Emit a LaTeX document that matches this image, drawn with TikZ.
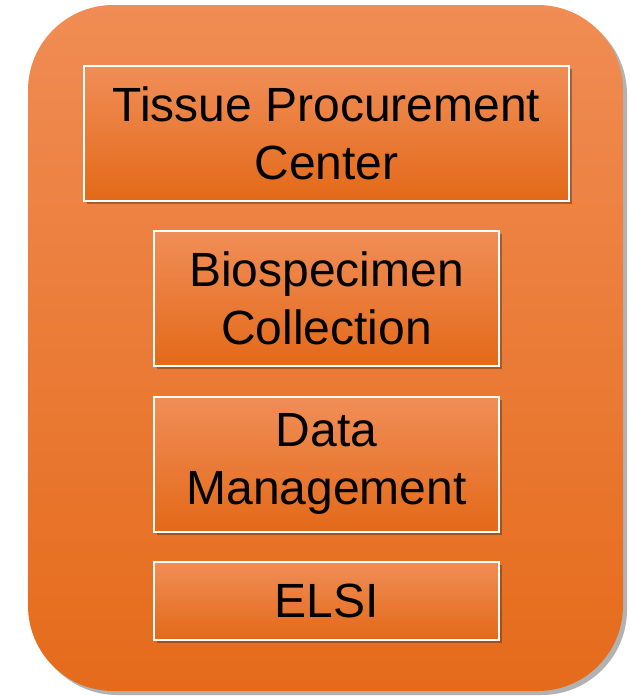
\documentclass[tikz,border=0pt]{standalone}
\usepackage{fontspec}
\setmainfont{Liberation Sans}
\usetikzlibrary{shadows}

\definecolor{panelTop}{RGB}{240,140,84}
\definecolor{panelBot}{RGB}{229,107,27}
\definecolor{boxTop}{RGB}{240,142,88}
\definecolor{boxMid}{RGB}{244,124,42}
\definecolor{boxBot}{RGB}{227,105,24}

\tikzset{every picture/.style={line width=0.75pt}}
\tikzset{
  unitbox/.style={draw=white, line width=1.5pt, top color=boxTop, middle color=boxMid, bottom color=boxBot,
    drop shadow={shadow xshift=2.5pt, shadow yshift=-2.5pt, opacity=0.4, fill=black!70!brown},
    align=center, inner sep=0pt, font=\fontsize{36}{43.5}\selectfont, text=black},
}

\begin{document}
\begin{tikzpicture}[x=0.75pt,y=0.75pt,yscale=-1,xscale=1]
\useasboundingbox (0,0) rectangle (635,696);

%Rounded Rect [id:panel] 
\path [top color=panelTop, bottom color=panelBot, rounded corners=64pt,
  drop shadow={shadow xshift=3pt, shadow yshift=-3pt, opacity=0.3, fill=black}] (28,5) rectangle (623,691);

% Text Node
\node [unitbox, minimum width=363.75pt, minimum height=101.25pt] (tpc) at (326.5,133.5) {Tissue Procurement\\Center};
% Text Node
\node [unitbox, minimum width=258.75pt, minimum height=101.25pt] (bio) at (326.5,298.5) {Biospecimen\\Collection};
% Text Node
\node [unitbox, minimum width=258.75pt, minimum height=101.25pt, text depth=8pt] (data) at (326.5,464) {Data\\Management};
% Text Node
\node [unitbox, minimum width=258.75pt, minimum height=58.5pt] (elsi) at (326.5,600.5) {ELSI};

\end{tikzpicture}
\end{document}
